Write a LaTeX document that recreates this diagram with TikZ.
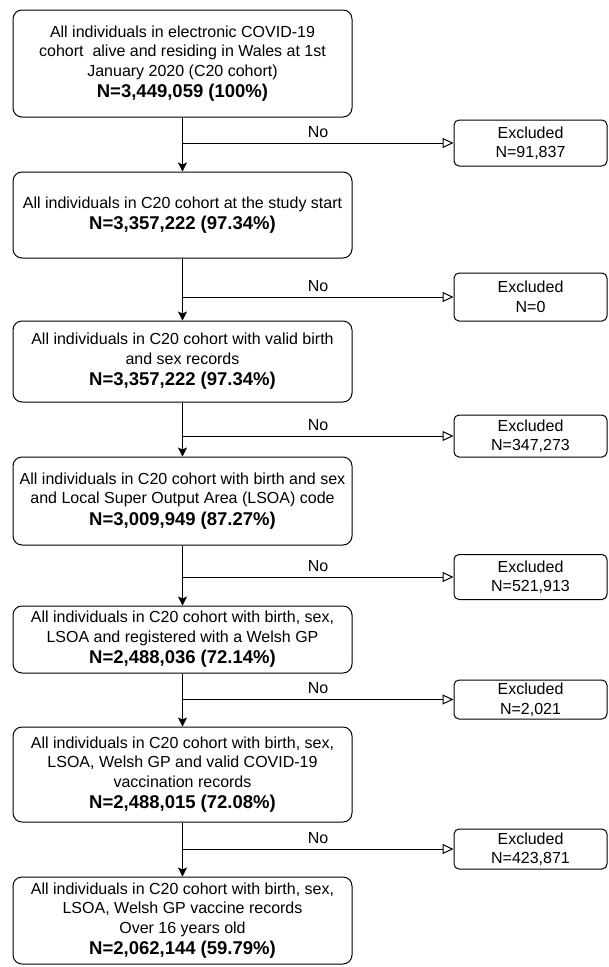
\documentclass[tikz,border=0pt]{standalone}
\usepackage{fontspec}
\setmainfont{Liberation Sans}
\usetikzlibrary{arrows.meta,positioning}
\newcommand{\Ncount}[1]{\\[2pt]{\fontsize{18.5}{21}\selectfont\bfseries N=#1}}
\begin{document}
\begin{tikzpicture}[x=1pt, y=-1pt,
  stage box/.style={draw, rounded corners=9pt, line width=1pt, minimum width=339pt,
    align=center, inner sep=0pt, font=\fontsize{16}{19.5}\selectfont},
  excluded box/.style={draw, rounded corners=5pt, line width=1pt, minimum width=153pt,
    align=center, inner sep=0pt, font=\fontsize{16}{19.5}\selectfont},
  main flow/.style={line width=1pt, -{Stealth[length=9pt,width=9pt,inset=2pt]}},
  exclusion flow/.style={line width=1pt, -{Triangle[open,length=11pt,width=10pt]}},
  no label/.style={above=2pt, font=\fontsize{16}{18}\selectfont}]
\useasboundingbox (0,0) rectangle (609,967);

% cohort stages
\node[stage box, minimum height=107pt] (s1) at (182.5,63.5)
  {All individuals in electronic COVID-19\\cohort\ \ alive and residing in Wales at 1st\\January 2020 (C20 cohort)\Ncount{3,449,059 (100\%)}};
\node[stage box, minimum height=86pt] (s2) at (182.5,215)
  {All individuals in C20 cohort at the study start\Ncount{3,357,222 (97.34\%)}};
\node[stage box, minimum height=81pt] (s3) at (182.5,361.5)
  {All individuals in C20 cohort with valid birth\\and sex records\Ncount{3,357,222 (97.34\%)}};
\node[stage box, minimum height=88pt] (s4) at (182.5,501)
  {All individuals in C20 cohort with birth and sex\\and Local Super Output Area (LSOA) code\Ncount{3,009,949 (87.27\%)}};
\node[stage box, minimum height=67pt] (s5) at (182.5,639.5)
  {All individuals in C20 cohort with birth, sex,\\LSOA and registered with a Welsh GP\Ncount{2,488,036 (72.14\%)}};
\node[stage box, minimum height=95pt] (s6) at (182.5,774.5)
  {All individuals in C20 cohort with birth, sex,\\LSOA, Welsh GP and valid COVID-19\\vaccination records\Ncount{2,488,015 (72.08\%)}};
\node[stage box, minimum height=87pt] (s7) at (182.5,920.5)
  {All individuals in C20 cohort with birth, sex,\\LSOA, Welsh GP vaccine records\\Over 16 years old\Ncount{2,062,144 (59.79\%)}};

% exclusions
\node[excluded box, minimum height=46pt] (x1) at (530.5,143) {Excluded\\N=91,837};
\node[excluded box, minimum height=48pt] (x2) at (530.5,297) {Excluded\\N=0};
\node[excluded box, minimum height=42pt] (x3) at (530.5,436) {Excluded\\N=347,273};
\node[excluded box, minimum height=45pt] (x4) at (530.5,577) {Excluded\\N=521,913};
\node[excluded box, minimum height=39pt] (x5) at (530.5,699.5) {Excluded\\N=2,021};
\node[excluded box, minimum height=40pt] (x6) at (530.5,849) {Excluded\\N=423,871};

\foreach \i [evaluate=\i as \j using int(\i+1)] in {1,...,6} {
  \draw[main flow] (s\i) -- (s\j);
  \draw[exclusion flow] (s\i.south |- x\i.west) -- node[no label] {No} (x\i.west);
}
\end{tikzpicture}
\end{document}
